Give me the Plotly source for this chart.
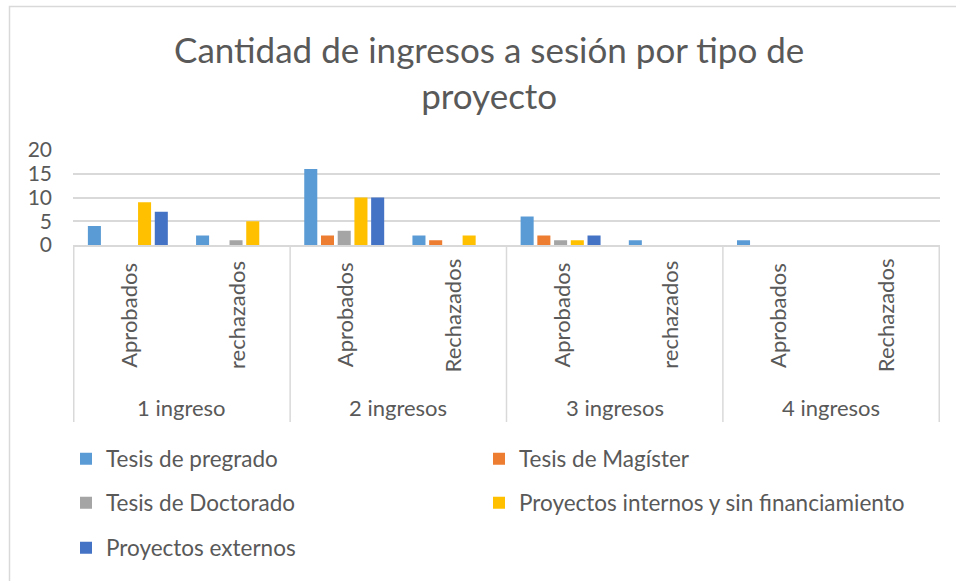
import plotly.graph_objects as go

groups = ["1 ingreso", "2 ingresos", "3 ingresos", "4 ingresos"]
subcats = ["Aprobados", "rechazados", "Aprobados", "Rechazados",
           "Aprobados", "rechazados", "Aprobados", "Rechazados"]
series_names = ["Tesis de pregrado", "Tesis de Magíster", "Tesis de Doctorado",
                "Proyectos internos y sin financiamiento", "Proyectos externos"]
pregrado = [4, 2, 16, 2, 6, 1, 1, 0]
magister = [0, 0, 2, 1, 2, 0, 0, 0]
doctorado = [0, 1, 3, 0, 1, 0, 0, 0]
internos = [9, 5, 10, 2, 1, 0, 0, 0]
externos = [7, 0, 10, 0, 2, 0, 0, 0]
y_ticks = [0, 5, 10, 15, 20]

colors = ["#5B9BD5", "#ED7D31", "#A5A5A5", "#FFC000", "#4472C4"]
values = [pregrado, magister, doctorado, internos, externos]

FONT = "Lato"
TXT = "#595959"
GRID = "#D9D9D9"
W, H = 956, 581
L, R, T, B = 73, 940, 150, 245


def pxx(p):
    return p / W


def pyy(p):
    return 1 - p / H


# legend slot (x, y in pixels) for each series: two columns, three rows
legend_pos = [(66, 459), (479, 459), (66, 503), (479, 503), (66, 548)]
legend_ids = ["legend"] + [f"legend{i}" for i in range(2, len(series_names) + 1)]

x_keys = [f"{groups[i // 2]} | {subcats[i]}" for i in range(len(subcats))]

fig = go.Figure()
for name, vals, col, lg in zip(series_names, values, colors, legend_ids):
    fig.add_trace(go.Bar(x=x_keys, y=vals, name=name, marker_color=col,
                         marker_line_width=0, legend=lg, showlegend=True))

shapes = []
for k in range(0, len(subcats) + 1, 2):
    shapes.append(dict(type="line", xref="x", yref="paper", x0=k - 0.5, x1=k - 0.5,
                       y0=pyy(B), y1=pyy(422), line=dict(color=GRID, width=1.5)))
shapes.append(dict(type="rect", xref="paper", yref="paper", x0=pxx(9.5), x1=pxx(1000),
                   y0=pyy(6.5), y1=pyy(620), line=dict(color=GRID, width=1.5),
                   fillcolor="rgba(0,0,0,0)", layer="below"))

annotations = [dict(xref="paper", yref="paper", x=pxx(489), y=pyy(72),
                    text="Cantidad de ingresos a sesión por tipo de<br>proyecto",
                    showarrow=False, xanchor="center", yanchor="middle",
                    font=dict(family=FONT, size=35, color=TXT))]
for i, s in enumerate(subcats):
    annotations.append(dict(xref="x", yref="paper", x=i, y=pyy(315), text=s,
                            textangle=-90, showarrow=False, xanchor="center",
                            yanchor="middle", font=dict(family=FONT, size=22, color=TXT)))
for j, g in enumerate(groups):
    annotations.append(dict(xref="x", yref="paper", x=2 * j + 0.5, y=pyy(407), text=g,
                            showarrow=False, xanchor="center", yanchor="middle",
                            font=dict(family=FONT, size=22, color=TXT)))

legends = {}
for lg, (lx, ly) in zip(legend_ids, legend_pos):
    legends[lg] = dict(orientation="v", xanchor="left", yanchor="middle",
                       x=pxx(lx), y=pyy(ly),
                       font=dict(family=FONT, size=22.5, color=TXT),
                       bgcolor="rgba(0,0,0,0)", itemclick=False, itemdoubleclick=False)

fig.update_layout(
    width=W, height=H, showlegend=True,
    margin=dict(l=0, r=0, t=0, b=0, autoexpand=False),
    paper_bgcolor="white", plot_bgcolor="white",
    barmode="group", bargap=0.227, bargroupgap=0.22,
    xaxis=dict(domain=[pxx(L), pxx(R)], showticklabels=False, showline=True,
               linecolor=GRID, linewidth=1.5, ticks="", showgrid=False, fixedrange=True),
    yaxis=dict(domain=[pyy(B), pyy(T)], range=[0, 20], tickvals=y_ticks, showgrid=True,
               gridcolor=GRID, gridwidth=1.5, zeroline=False, showline=False, ticks="",
               ticklabelstandoff=20, tickfont=dict(family=FONT, size=21, color=TXT),
               fixedrange=True),
    shapes=shapes, annotations=annotations,
    **legends,
)

fig.write_html("out.html", config={"displayModeBar": False},
               post_script="document.body.style.margin='0';")
